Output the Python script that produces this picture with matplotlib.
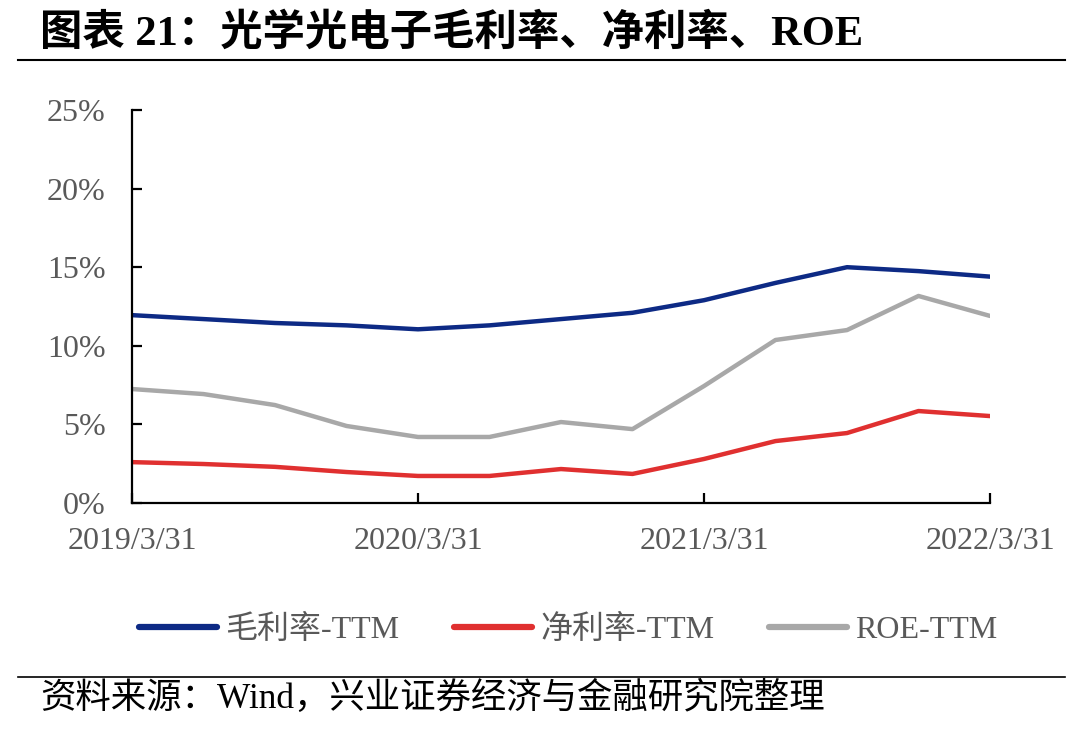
import matplotlib
matplotlib.use("Agg")
import matplotlib.pyplot as plt
from matplotlib.lines import Line2D

plt.rcParams['font.family'] = ['Liberation Serif', 'Noto Sans CJK SC']

# quarterly TTM data, 2019Q1 .. 2022Q1
quarters = ['2019/3/31', '2019/6/30', '2019/9/30', '2019/12/31',
            '2020/3/31', '2020/6/30', '2020/9/30', '2020/12/31',
            '2021/3/31', '2021/6/30', '2021/9/30', '2021/12/31',
            '2022/3/31']
gross_margin = [11.95, 11.7, 11.45, 11.3, 11.05, 11.3, 11.7, 12.1,
                12.9, 14.0, 15.0, 14.75, 14.4]
net_margin = [2.6, 2.48, 2.3, 1.97, 1.72, 1.72, 2.16, 1.85,
              2.8, 3.94, 4.45, 5.85, 5.53]
roe = [7.25, 6.93, 6.23, 4.9, 4.2, 4.2, 5.15, 4.7,
       7.44, 10.37, 11.0, 13.17, 11.9]
labels = ['毛利率-TTM', '净利率-TTM', 'ROE-TTM']
colors = ['#0D2A85', '#E03030', '#A8A8A8']
yticks = [0, 5, 10, 15, 20, 25]

fig = plt.figure(figsize=(10.8, 7.32), dpi=100)
ax = fig.add_axes([132 / 1080, 1 - 503 / 732, 858 / 1080, 393 / 732])

x = list(range(len(quarters)))
for vals, c in zip([gross_margin, net_margin, roe], colors):
    ax.plot(x, vals, color=c, lw=3.2, solid_capstyle='round', solid_joinstyle='round')

ax.set_xlim(0, len(quarters) - 1)
ax.set_ylim(0, 25)
ax.set_yticks(yticks)
ax.set_yticklabels([f'{v}%' for v in yticks])
xt = [0, 4, 8, 12]
ax.set_xticks(xt)
ax.set_xticklabels([quarters[i] for i in xt])
for s in ['top', 'right']:
    ax.spines[s].set_visible(False)
for s in ['left', 'bottom']:
    ax.spines[s].set_linewidth(1.6)
ax.tick_params(axis='both', direction='in', length=7, width=1.6,
               labelsize=23, labelcolor='#595959')
ax.tick_params(axis='y', pad=19)
ax.tick_params(axis='x', pad=17)

handles = [Line2D([], [], color=c, lw=4.5, solid_capstyle='round') for c in colors]
fig.legend(handles, labels, loc='center', bbox_to_anchor=(0.526, 1 - 630 / 732),
           ncol=3, frameon=False, fontsize=23, handlelength=2.45, handletextpad=0.25,
           columnspacing=1.7, labelcolor='#595959')

fig.text(40 / 1080, 1 - 33 / 732, '图表 21：光学光电子毛利率、净利率、ROE',
         fontsize=30.5, fontweight='bold', va='center', ha='left')
fig.add_artist(Line2D([18 / 1080, 1065 / 1080], [1 - 60 / 732, 1 - 60 / 732],
                      color='black', lw=1.5))
fig.add_artist(Line2D([18 / 1080, 1065 / 1080], [1 - 677 / 732, 1 - 677 / 732],
                      color='black', lw=1.2))
fig.text(40 / 1080, 1 - 699 / 732, '资料来源：Wind，兴业证券经济与金融研究院整理',
         fontsize=25.5, va='center', ha='left')

fig.savefig('out.png', dpi=100)
